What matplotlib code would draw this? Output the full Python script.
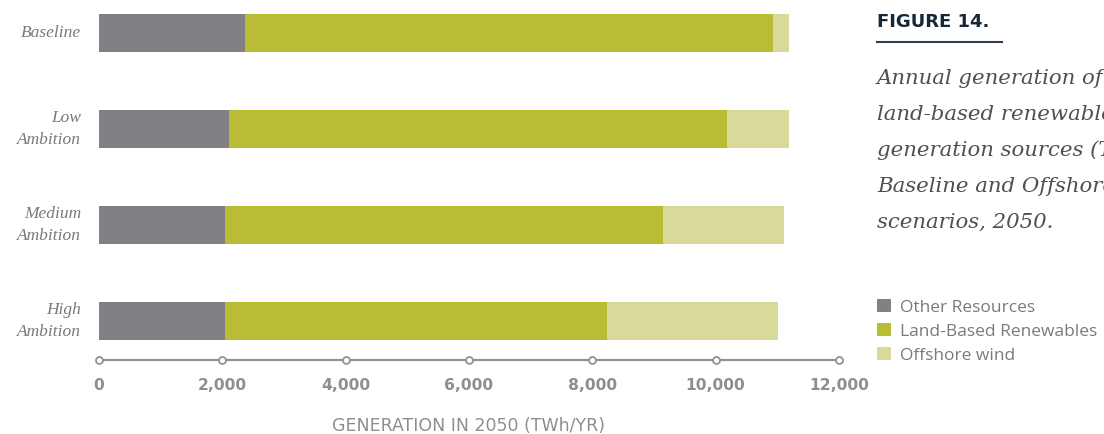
import matplotlib
matplotlib.use("Agg")
import matplotlib.pyplot as plt
from matplotlib.patches import Patch
import matplotlib.transforms as mtransforms

categories = ["Baseline", "Low\nAmbition", "Medium\nAmbition", "High\nAmbition"]
other_resources = [2370, 2110, 2040, 2040]
land_based = [8560, 8070, 7100, 6200]
offshore_wind = [260, 1010, 1960, 2770]
xticks = [0, 2000, 4000, 6000, 8000, 10000, 12000]
xticklabels = ["0", "2,000", "4,000", "6,000", "8,000", "10,000", "12,000"]
series_names = ["Other Resources", "Land-Based Renewables", "Offshore wind"]
colors = ["#808085", "#b8bd35", "#d9d999"]

W, H = 1104, 434
fig = plt.figure(figsize=(W / 100, H / 100), dpi=100)
ax = fig.add_axes([99 / W, (H - 360) / H, (839 - 99) / W, 360 / H])

ypos = list(range(len(categories)))
left = [0] * len(categories)
for vals, col, name in zip([other_resources, land_based, offshore_wind], colors, series_names):
    ax.barh(ypos, vals, left=left, height=0.396, color=col, edgecolor="none", label=name)
    left = [a + b for a, b in zip(left, vals)]

ax.set_xlim(0, 12000)
ax.set_ylim(3.406, -0.344)
for s in ax.spines.values():
    s.set_visible(False)
ax.set_xticks([])
ax.set_yticks([])

# axis line with circle markers
trans = mtransforms.blended_transform_factory(ax.transData, ax.transAxes)
ax.plot([0, 12000], [0, 0], color="#929292", lw=1.6, transform=trans, clip_on=False, zorder=3)
ax.plot(xticks, [0] * len(xticks), "o", ms=5, mfc="white", mec="#929292", mew=1.3,
        transform=trans, clip_on=False, zorder=4)
for xt, lab in zip(xticks, xticklabels):
    ax.text(xt, -26 / 360, lab, transform=trans, ha="center", va="center",
            fontsize=11.2, fontweight="bold", color="#8e8e8e", family="DejaVu Sans")

ax.text(0.5, -66 / 360, "GENERATION IN 2050 (TWh/YR)", transform=ax.transAxes,
        ha="center", va="center", fontsize=12.5, color="#8e8e8e", family="DejaVu Sans")

# category labels
for y, cat in zip(ypos, categories):
    ax.text(-18 / 740 * 12000, y, cat, ha="right", va="center", fontsize=12.5,
            style="italic", color="#7a7a7a", family="Liberation Serif", linespacing=1.45)

# right-side title and caption
fig.text(877 / W, 1 - 22 / H, "FIGURE 14.", ha="left", va="center", fontsize=13,
         fontweight="heavy", color="#162838", family="DejaVu Sans")
fig.add_artist(plt.Line2D([877 / W, 1002 / W], [1 - 42 / H, 1 - 42 / H], color="#2c3e50", lw=1.5))
caption = ("Annual generation of\nland-based renewables and other\ngeneration sources (TWh/yr) in the\n"
           "Baseline and Offshore Wind\nscenarios, 2050.")
fig.text(877 / W, 1 - 69 / H, caption, ha="left", va="top", fontsize=15.3, style="italic",
         color="#505050", family="DejaVu Serif", linespacing=2.1)

handles = [Patch(facecolor=c, edgecolor="none") for c in colors]
fig.legend(handles, series_names, loc="upper left", bbox_to_anchor=(877 / W, 1 - 299 / H),
           frameon=False, labelcolor="#7a7a7a", handlelength=0.8, handleheight=0.8,
           handletextpad=0.55, labelspacing=0.42, borderaxespad=0, borderpad=0,
           prop={"family": "Open Sans", "size": 12.5})

fig.savefig("out.png", dpi=100)
